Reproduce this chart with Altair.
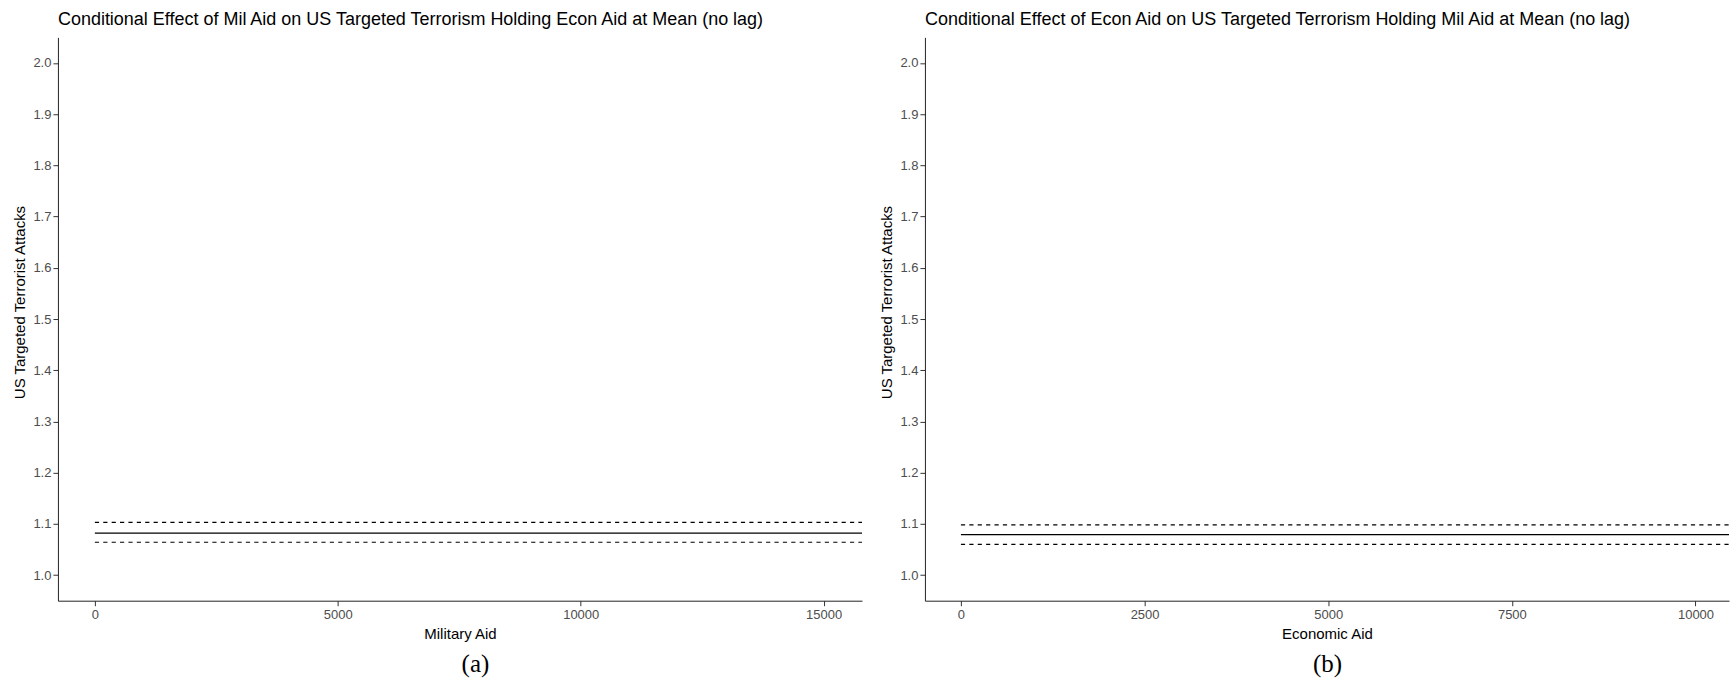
import altair as alt
import pandas as pd

# Predicted US-targeted attacks over the range of each aid variable
mil_x = [0, 15790]
mil_fit = [1.082, 1.082]
mil_lower = [1.064, 1.064]
mil_upper = [1.103, 1.103]

econ_x = [0, 10456]
econ_fit = [1.079, 1.079]
econ_lower = [1.060, 1.060]
econ_upper = [1.098, 1.098]

y_ticks = [1.0, 1.1, 1.2, 1.3, 1.4, 1.5, 1.6, 1.7, 1.8, 1.9, 2.0]
mil_ticks = [0, 5000, 10000, 15000]
econ_ticks = [0, 2500, 5000, 7500, 10000]

SANS = "Liberation Sans"
SERIF = "Liberation Serif"
W, H = 805, 564


def frame(x, fit, lower, upper):
    rows = []
    for name, ys in (("fit", fit), ("lower", lower), ("upper", upper)):
        for xv, yv in zip(x, ys):
            rows.append({"x": xv, "y": yv, "band": name})
    return pd.DataFrame(rows)


def panel(df, x_domain, x_ticks, x_title, title, caption, caption_x):
    x_axis = alt.Axis(
        values=x_ticks, format="d", title=x_title, grid=False,
        labelFont=SANS, labelFontSize=13, labelColor="#4D4D4D", labelPadding=3,
        tickSize=5, tickColor="#333333", domainColor="#222222",
        titleFont=SANS, titleFontSize=15, titleFontWeight="normal",
        titleColor="black", titlePadding=5,
    )
    y_axis = alt.Axis(
        values=y_ticks, format=".1f", title="US Targeted Terrorist Attacks",
        grid=False, labelFont=SANS, labelFontSize=13, labelColor="#4D4D4D",
        labelPadding=2, tickSize=5, tickColor="#333333", domainColor="#222222",
        titleFont=SANS, titleFontSize=15, titleFontWeight="normal",
        titleColor="black", titlePadding=5, titleY=265,
    )
    xs = alt.Scale(domain=x_domain, nice=False, zero=False)
    ys = alt.Scale(domain=[0.95, 2.05], nice=False, zero=False)

    base = alt.Chart(df).encode(
        x=alt.X("x:Q", scale=xs, axis=x_axis),
        y=alt.Y("y:Q", scale=ys, axis=y_axis),
    )
    fit_line = base.transform_filter(alt.datum.band == "fit").mark_line(
        color="black", strokeWidth=1.1, clip=True
    )
    ci_lines = base.transform_filter(alt.datum.band != "fit").mark_line(
        color="black", strokeWidth=1.1, strokeDash=[4.2, 4.2], clip=True
    ).encode(detail="band:N")

    cap = alt.Chart(pd.DataFrame({"t": [caption]})).mark_text(
        font=SERIF, fontSize=25, color="black", baseline="middle", align="center"
    ).encode(text="t:N", x=alt.value(caption_x), y=alt.value(H + 63))

    return alt.layer(fit_line, ci_lines, cap).properties(
        width=W, height=H,
        title=alt.TitleParams(
            text=title, anchor="start", frame="group", font=SANS, fontSize=18,
            fontWeight="normal", color="black", offset=8,
        ),
    )


left = panel(
    frame(mil_x, mil_fit, mil_lower, mil_upper), [-760, 15790], mil_ticks,
    "Military Aid",
    "Conditional Effect of Mil Aid on US Targeted Terrorism Holding Econ Aid at Mean (no lag)",
    "(a)", 418,
)
right = panel(
    frame(econ_x, econ_fit, econ_lower, econ_upper), [-490, 10456], econ_ticks,
    "Economic Aid",
    "Conditional Effect of Econ Aid on US Targeted Terrorism Holding Mil Aid at Mean (no lag)",
    "(b)", 403,
)

chart = alt.hconcat(left, right, spacing=16).properties(
    padding={"left": 12, "top": 10, "right": 2, "bottom": 0},
    background="white",
).configure_view(stroke="transparent")

chart.save("out.html", embed_options={"renderer": "svg", "actions": False})
